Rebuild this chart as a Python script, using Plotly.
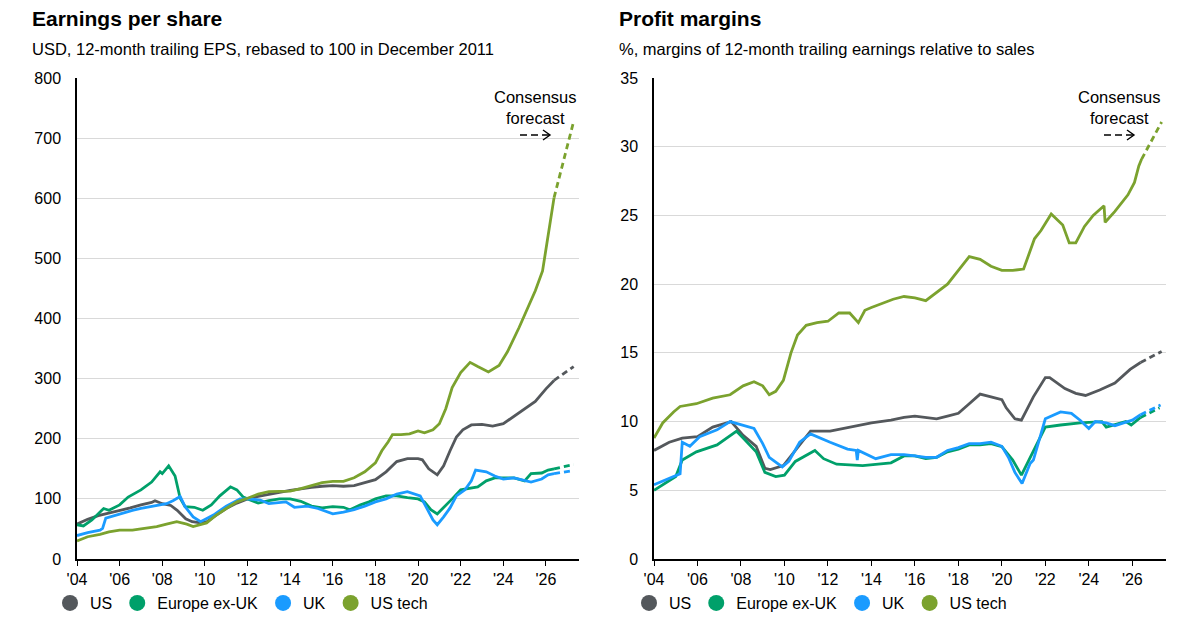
"""
Earnings per share and profit margins: US, Europe ex-UK, UK and US tech.
Two panels side by side, with the consensus forecast drawn dashed.
"""

import plotly.graph_objects as go

# --- Earnings per share (rebased to 100 in Dec 2011)
us_eps_x = [2004.0, 2004.5, 2005.0, 2005.5, 2006.0, 2006.5, 2007.0, 2007.5, 2007.66, 2008.0,
            2008.4, 2008.7, 2009.1, 2009.4, 2009.8, 2010.1, 2010.5, 2011.0, 2011.5, 2012.0,
            2012.5, 2013.0, 2013.5, 2014.0, 2014.5, 2015.0, 2015.5, 2016.0, 2016.5, 2017.0,
            2017.5, 2018.0, 2018.5, 2019.0, 2019.5, 2020.0, 2020.2, 2020.5, 2020.9, 2021.2,
            2021.5, 2021.8, 2022.1, 2022.5, 2023.0, 2023.5, 2024.0, 2024.5, 2025.0, 2025.5,
            2026.0, 2026.38]
us_eps_y = [58, 66, 72, 76, 80, 85, 90, 94, 97, 92,
            89, 81, 67, 62, 60, 62, 72, 84, 93, 100,
            104, 108, 111, 114, 117, 119, 121, 122, 121, 122,
            127, 132, 145, 162, 167, 167, 165, 150, 140, 155,
            180, 203, 215, 223, 224, 221, 225, 237, 250, 262,
            283, 297]

eu_eps_x = [2004.0, 2004.3, 2004.7, 2005.0, 2005.25, 2005.5, 2006.0, 2006.4, 2007.0, 2007.5,
            2007.9, 2008.0, 2008.3, 2008.6, 2008.84, 2009.07, 2009.5, 2009.9, 2010.3, 2010.7,
            2011.2, 2011.5, 2011.8, 2012.0, 2012.5, 2013.0, 2013.5, 2014.0, 2014.5, 2015.0,
            2015.5, 2016.0, 2016.5, 2016.8, 2017.3, 2017.7, 2018.0, 2018.5, 2019.0, 2019.5,
            2020.0, 2020.3, 2020.6, 2020.9, 2021.2, 2021.6, 2022.0, 2022.5, 2022.8, 2023.2,
            2023.6, 2024.0, 2024.5, 2025.0, 2025.3, 2025.8, 2026.1, 2026.38]
eu_eps_y = [57, 55, 65, 75, 84, 81, 90, 103, 115, 128,
            145, 142, 155, 138, 101, 87, 86, 81, 90, 105,
            120, 115, 103, 100, 93, 97, 100, 100, 96, 88,
            85, 87, 86, 82, 90, 95, 100, 105, 105, 102,
            100, 95, 82, 75, 85, 100, 115, 118, 120, 130,
            135, 135, 135, 130, 142, 143, 148, 150]

uk_eps_x = [2004.0, 2004.5, 2005.08, 2005.2, 2005.35, 2005.7, 2006.0, 2006.6, 2007.0, 2007.8,
            2008.2, 2008.5, 2008.84, 2009.07, 2009.45, 2009.8, 2010.4, 2011.0, 2011.65, 2012.0,
            2012.6, 2013.0, 2013.8, 2014.2, 2014.8, 2015.3, 2015.6, 2016.0, 2016.5, 2017.0,
            2017.5, 2018.0, 2018.5, 2019.0, 2019.5, 2019.8, 2020.1, 2020.4, 2020.7, 2020.9,
            2021.2, 2021.5, 2021.8, 2022.2, 2022.5, 2022.7, 2023.2, 2023.6, 2024.0, 2024.5,
            2025.0, 2025.3, 2025.8, 2026.1, 2026.38]
uk_eps_y = [39, 44, 48, 51, 68, 72, 75, 81, 84, 89,
            92, 97, 104, 87, 70, 62, 73, 88, 100, 100,
            98, 92, 95, 86, 88, 84, 80, 75, 78, 82,
            88, 95, 100, 108, 112, 108, 105, 85, 65, 57,
            70, 85, 105, 115, 130, 148, 145, 138, 133, 135,
            130, 128, 133, 140, 142]

tech_eps_x = [2004.0, 2004.5, 2005.08, 2005.5, 2006.0, 2006.6, 2007.0, 2007.74, 2008.2, 2008.68,
              2009.15, 2009.45, 2010.08, 2010.5, 2011.0, 2011.5, 2012.0, 2012.5, 2013.0, 2013.5,
              2014.0, 2014.5, 2015.0, 2015.5, 2016.0, 2016.5, 2017.0, 2017.5, 2018.0, 2018.3,
              2018.6, 2018.8, 2019.2, 2019.6, 2020.0, 2020.3, 2020.7, 2021.0, 2021.3, 2021.6,
              2022.0, 2022.44, 2022.8, 2023.3, 2023.8, 2024.2, 2024.74, 2025.1, 2025.5, 2025.84,
              2026.07, 2026.23, 2026.38]
tech_eps_y = [30, 37, 41, 45, 48, 48, 50, 54, 58, 62,
              58, 54, 60, 72, 84, 95, 101, 108, 112, 112,
              113, 117, 122, 127, 129, 129, 135, 145, 160, 180,
              195, 207, 207, 208, 213, 210, 215, 225, 250, 285,
              310, 327, 320, 311, 322, 345, 385, 415, 446, 479,
              529, 568, 601]

# consensus forecasts (start at the last actual)
us_eps_fc_x = [2026.38, 2027.3]
us_eps_fc_y = [297, 320]
eu_eps_fc_x = [2026.38, 2027.3]
eu_eps_fc_y = [150, 157]
uk_eps_fc_x = [2026.38, 2027.3]
uk_eps_fc_y = [142, 147]
tech_eps_fc_x = [2026.38, 2027.3]
tech_eps_fc_y = [601, 728]

# --- Profit margins (%)
us_pm_x = [2004.0, 2004.7, 2005.3, 2006.0, 2006.7, 2007.55, 2008.1, 2008.7, 2009.1, 2009.35,
           2009.95, 2010.7, 2011.2, 2012.1, 2013.0, 2014.0, 2014.9, 2015.5, 2016.0, 2016.5,
           2017.0, 2017.5, 2018.0, 2018.5, 2019.0, 2019.5, 2020.0, 2020.2, 2020.6, 2020.9,
           2021.45, 2022.0, 2022.2, 2022.9, 2023.4, 2023.85, 2024.5, 2025.2, 2025.9, 2026.38]
us_pm_y = [7.9, 8.5, 8.8, 8.9, 9.6, 10.0, 9.0, 8.2, 6.6, 6.5,
           6.8, 8.3, 9.3, 9.3, 9.6, 9.9, 10.1, 10.3, 10.4, 10.3,
           10.2, 10.4, 10.6, 11.3, 12.0, 11.8, 11.6, 11.0, 10.2, 10.1,
           11.8, 13.2, 13.2, 12.4, 12.05, 11.9, 12.3, 12.8, 13.8, 14.3]

eu_pm_x = [2004.0, 2005.0, 2005.3, 2005.95, 2006.9, 2007.8, 2008.1, 2008.7, 2009.1, 2009.6,
           2010.0, 2010.5, 2011.4, 2011.8, 2012.4, 2013.2, 2013.6, 2014.9, 2015.5, 2016.0,
           2016.5, 2017.0, 2017.5, 2018.0, 2018.5, 2019.0, 2019.5, 2020.0, 2020.5, 2020.9,
           2021.3, 2021.6, 2022.0, 2022.7, 2023.6, 2024.6, 2024.8, 2025.7, 2025.95, 2026.38]
eu_pm_y = [5.0, 6.0, 7.2, 7.8, 8.3, 9.3, 8.8, 7.8, 6.3, 6.0,
           6.1, 7.1, 7.9, 7.3, 6.9, 6.8, 6.8, 7.0, 7.5, 7.5,
           7.3, 7.4, 7.8, 8.0, 8.3, 8.3, 8.4, 8.17, 7.2, 6.1,
           7.4, 8.4, 9.6, 9.75, 9.9, 10.0, 9.6, 10.0, 9.75, 10.3]

uk_pm_x = [2004.0, 2005.0, 2005.2, 2005.3, 2005.65, 2006.1, 2006.9, 2007.5, 2008.1, 2008.6,
           2009.0, 2009.3, 2009.9, 2010.2, 2010.7, 2011.2, 2012.1, 2012.9, 2013.3, 2013.35,
           2013.4, 2014.2, 2014.9, 2015.5, 2016.0, 2016.5, 2017.0, 2017.5, 2018.0, 2018.5,
           2019.0, 2019.5, 2020.0, 2020.3, 2020.6, 2020.93, 2021.3, 2021.45, 2022.0, 2022.7,
           2023.2, 2023.6, 2024.0, 2024.3, 2024.8, 2025.2, 2025.6, 2026.0, 2026.38]
uk_pm_y = [5.4, 6.1, 6.2, 8.5, 8.2, 8.9, 9.4, 10.0, 9.75, 9.5,
           8.4, 7.4, 6.7, 7.1, 8.5, 9.1, 8.5, 8.0, 7.9, 7.2,
           7.9, 7.3, 7.6, 7.6, 7.5, 7.4, 7.4, 7.9, 8.1, 8.4,
           8.4, 8.5, 8.2, 7.4, 6.3, 5.5, 6.95, 7.2, 10.2, 10.7,
           10.6, 10.1, 9.5, 10.0, 9.9, 9.7, 9.9, 10.1, 10.5]

tech_pm_x = [2004.0, 2004.4, 2004.9, 2005.2, 2005.95, 2006.7, 2007.5, 2008.1, 2008.6, 2009.0,
             2009.3, 2009.6, 2009.95, 2010.3, 2010.6, 2011.0, 2011.5, 2012.0, 2012.5, 2013.0,
             2013.4, 2013.7, 2014.0, 2014.5, 2015.0, 2015.5, 2016.0, 2016.5, 2017.0, 2017.5,
             2018.0, 2018.5, 2019.0, 2019.5, 2020.0, 2020.5, 2021.0, 2021.5, 2021.8, 2022.27,
             2022.8, 2023.1, 2023.4, 2023.8, 2024.2, 2024.7, 2024.75, 2025.2, 2025.8, 2026.1,
             2026.3, 2026.43]
tech_pm_y = [8.8, 9.9, 10.7, 11.1, 11.3, 11.7, 11.95, 12.6, 12.9, 12.6,
             11.95, 12.2, 13.0, 15.0, 16.3, 17.0, 17.2, 17.3, 17.9, 17.9,
             17.2, 18.1, 18.3, 18.6, 18.9, 19.1, 19.0, 18.8, 19.4, 20.0,
             21.0, 22.0, 21.8, 21.3, 21.0, 21.0, 21.1, 23.3, 23.9, 25.1,
             24.3, 23.0, 23.0, 24.2, 25.0, 25.7, 24.5, 25.3, 26.5, 27.4,
             28.6, 29.1]

us_pm_fc_x = [2026.38, 2027.35]
us_pm_fc_y = [14.3, 15.1]
eu_pm_fc_x = [2026.38, 2027.25]
eu_pm_fc_y = [10.3, 11.0]
uk_pm_fc_x = [2026.38, 2027.3]
uk_pm_fc_y = [10.5, 11.2]
tech_pm_fc_x = [2026.43, 2027.35]
tech_pm_fc_y = [29.1, 31.8]

year_ticks = list(range(2004, 2027, 2))
year_labels = ["'%02d" % (y % 100) for y in year_ticks]

series_names = ["US", "Europe ex-UK", "UK", "US tech"]
colors = {"US": "#54585c", "Europe ex-UK": "#00a06a", "UK": "#1a9bff", "US tech": "#7ba22e"}

FONT = "Liberation Sans, Arial, sans-serif"
W, H = 1203, 632
OFF = 8  # the page body adds an 8px margin around the plot div


def px(x):
    """page pixel x -> paper fraction"""
    return (x - OFF) / W


def py(y):
    """page pixel y (from top) -> paper fraction"""
    return 1 - (y - OFF) / H


eps = {
    "US": (us_eps_x, us_eps_y, us_eps_fc_x, us_eps_fc_y),
    "Europe ex-UK": (eu_eps_x, eu_eps_y, eu_eps_fc_x, eu_eps_fc_y),
    "UK": (uk_eps_x, uk_eps_y, uk_eps_fc_x, uk_eps_fc_y),
    "US tech": (tech_eps_x, tech_eps_y, tech_eps_fc_x, tech_eps_fc_y),
}
margins = {
    "US": (us_pm_x, us_pm_y, us_pm_fc_x, us_pm_fc_y),
    "Europe ex-UK": (eu_pm_x, eu_pm_y, eu_pm_fc_x, eu_pm_fc_y),
    "UK": (uk_pm_x, uk_pm_y, uk_pm_fc_x, uk_pm_fc_y),
    "US tech": (tech_pm_x, tech_pm_y, tech_pm_fc_x, tech_pm_fc_y),
}

fig = go.Figure()

for panel, (xa, ya, leg) in zip([eps, margins], [("x", "y", "legend"), ("x2", "y2", "legend2")]):
    for name in series_names:
        x, y, fx, fy = panel[name]
        c = colors[name]
        fig.add_trace(go.Scatter(x=x, y=y, mode="lines", line=dict(color=c, width=2.8),
                                 xaxis=xa, yaxis=ya, showlegend=False, hoverinfo="skip"))
        fig.add_trace(go.Scatter(x=fx, y=fy, mode="lines",
                                 line=dict(color=c, width=2.8, dash="6px,4px"),
                                 xaxis=xa, yaxis=ya, showlegend=False, hoverinfo="skip"))
    # circle swatches for the legend
    for name in series_names:
        fig.add_trace(go.Scatter(x=[None], y=[None], mode="markers", name=name,
                                 marker=dict(size=16, color=colors[name]),
                                 xaxis=xa, yaxis=ya, legend=leg, hoverinfo="skip"))

x_common = dict(
    range=[2004, 2027.55], tickvals=year_ticks, ticktext=year_labels,
    showline=True, linecolor="#000000", linewidth=1.5, showgrid=False, zeroline=False,
    ticks="outside", ticklen=5, tickwidth=1, tickcolor="#000000",
    tickfont=dict(family=FONT, size=16, color="#000000"), automargin=False,
)
y_common = dict(
    showline=True, linecolor="#000000", linewidth=1.5, showgrid=True, gridcolor="#d9d9d9",
    gridwidth=1, zeroline=False, ticks="", ticklabelstandoff=11,
    tickfont=dict(family=FONT, size=16, color="#000000"), automargin=False,
)

y_dom = [py(559), py(78)]

legend_common = dict(orientation="h", xanchor="left", yanchor="middle", y=py(603),
                     font=dict(family=FONT, size=16, color="#000000"),
                     bgcolor="rgba(0,0,0,0)", itemwidth=30, tracegroupgap=0,
                     itemclick=False, itemdoubleclick=False)

fig.update_layout(
    width=W, height=H,
    margin=dict(l=0, r=0, t=0, b=0),
    paper_bgcolor="white", plot_bgcolor="white",
    xaxis=dict(domain=[px(77), px(579)], anchor="y", **x_common),
    yaxis=dict(domain=y_dom, anchor="x", range=[0, 800], dtick=100, **y_common),
    xaxis2=dict(domain=[px(654), px(1166)], anchor="y2", **x_common),
    yaxis2=dict(domain=y_dom, anchor="x2", range=[0, 35], dtick=5, **y_common),
    legend=dict(x=px(50), **legend_common),
    legend2=dict(x=px(629), **legend_common),
    hovermode=False,
)

ann = []
for x0, title, sub in [(30, "Earnings per share",
                        "USD, 12-month trailing EPS, rebased to 100 in December 2011"),
                       (617, "Profit margins",
                        "%, margins of 12-month trailing earnings relative to sales")]:
    ann.append(dict(x=px(x0), y=py(19), text="<b>%s</b>" % title, showarrow=False,
                    xref="paper", yref="paper", xanchor="left", yanchor="middle",
                    font=dict(family=FONT, size=21, color="#000000")))
    ann.append(dict(x=px(x0), y=py(49), text=sub, showarrow=False,
                    xref="paper", yref="paper", xanchor="left", yanchor="middle",
                    font=dict(family=FONT, size=16.5, color="#000000")))

shapes = []
for cx in [535, 1119]:
    for yy, txt in [(97, "Consensus"), (118, "forecast")]:
        ann.append(dict(x=px(cx), y=py(yy), text=txt, showarrow=False,
                        xref="paper", yref="paper", xanchor="center", yanchor="middle",
                        font=dict(family=FONT, size=16.5, color="#000000")))
    # dashed arrow under the label
    ay = 135
    shapes.append(dict(type="line", xref="paper", yref="paper",
                       x0=px(cx - 15), x1=px(cx + 14), y0=py(ay), y1=py(ay),
                       line=dict(color="#000000", width=1.4, dash="7px,4px")))
    shapes.append(dict(type="path", xref="paper", yref="paper",
                       path="M %f,%f L %f,%f L %f,%f" % (px(cx + 8), py(ay - 5), px(cx + 15), py(ay),
                                                         px(cx + 8), py(ay + 5)),
                       line=dict(color="#000000", width=1.4)))

fig.update_layout(annotations=ann, shapes=shapes)

fig.write_html("out.html")
